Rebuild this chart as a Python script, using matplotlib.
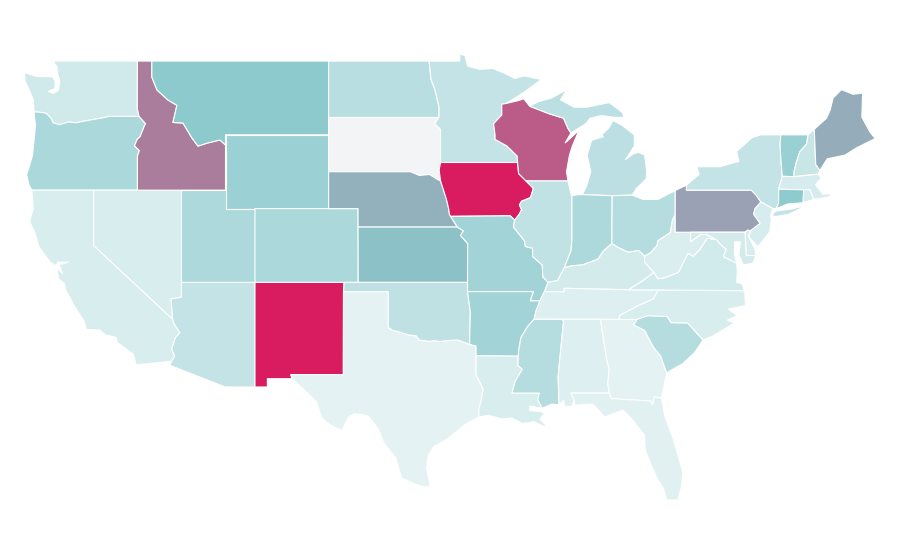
"""
plot.py
US states choropleth on a plain lon/lat grid, light teal through to crimson.
"""

import matplotlib
matplotlib.use('Agg')
import matplotlib.pyplot as plt
from matplotlib.colors import LinearSegmentedColormap, Normalize
from matplotlib.patches import Polygon

# ── Data ──────────────────────────────────────────────────────────────────────

STATES = ["WA", "OR", "CA", "NV", "ID", "MT", "WY", "UT", "CO", "AZ", "NM", "TX",
          "ND", "SD", "NE", "KS", "OK", "MN", "IA", "MO", "AR", "LA", "WI", "IL",
          "MI", "IN", "OH", "KY", "TN", "MS", "AL", "GA", "FL", "SC", "NC", "VA",
          "WV", "PA", "NY", "VT", "NH", "ME", "MA", "RI", "CT", "NJ", "DE", "MD"]

# None means no data
VALUES = [12, 32, 7.5, 7.5, 71.5, 48, 40, 30, 32, 18, 100, 1,
          24, None, 57, 52, 21, 18, 100, 36, 36, 7.5, 81, 20,
          23, 30, 26, 10, 5, 26, 5, 1, 3, 26, 7.5, 11,
          6, 61, 18, 41, 16, 58, 8, 8, 47, 8, 8, 10]

# ── Geography (lon, lat) ──────────────────────────────────────────────────────

OUTLINES = {
    "WA": [[(-117.03, 49), (-122.76, 49), (-122.5, 48.7), (-122.45, 48.3), (-122.3, 47.9), (-122.4, 47.4),
            (-122.75, 47.25), (-123.1, 47.35), (-122.65, 47.5), (-122.6, 47.9), (-122.8, 48.15), (-123.2, 48.15),
            (-123.9, 48.17), (-124.7, 48.38),
            (-124.65, 47.9), (-124.3, 47.3), (-124.1, 46.9), (-124.05, 46.25), (-123.4, 46.2), (-123.2, 46.15),
            (-122.9, 45.9), (-122.75, 45.65), (-122.3, 45.55), (-121.7, 45.7), (-121.2, 45.65), (-120.6, 45.75),
            (-119.9, 45.85), (-119.3, 45.93), (-119, 46), (-116.92, 46), (-117.04, 46.42)]],
    "OR": [[(-124.05, 46.25), (-123.95, 45.5), (-124.05, 44.7), (-124.15, 43.9), (-124.4, 43.2), (-124.55, 42.84),
            (-124.4, 42.3), (-124.2, 42), (-117.03, 42), (-117.03, 43.83), (-116.9, 44.15), (-117.23, 44.4),
            (-117.05, 44.75), (-116.85, 44.9), (-116.55, 45.5), (-116.47, 45.6), (-116.92, 46), (-119, 46),
            (-119.3, 45.93), (-119.9, 45.85), (-120.6, 45.75), (-121.2, 45.65), (-121.7, 45.7), (-122.3, 45.55),
            (-122.75, 45.65), (-122.9, 45.9), (-123.2, 46.15), (-123.4, 46.2)]],
    "CA": [[(-124.2, 42), (-120, 42), (-120, 39), (-114.63, 35), (-114.57, 34.8), (-114.15, 34.27), (-114.45, 34),
            (-114.7, 33.4), (-114.5, 33), (-114.72, 32.72), (-117.12, 32.53), (-117.3, 33.1), (-118.4, 33.75),
            (-118.5, 34.03), (-119.2, 34.15), (-119.6, 34.42), (-120.5, 34.45), (-120.65, 34.9), (-121.3, 35.7),
            (-121.9, 36.6), (-122, 36.95), (-122.4, 37.2), (-122.5, 37.8), (-122.1, 37.45), (-122.35, 37.95),
            (-121.7, 38.1), (-122.45, 38.1), (-122.55, 37.9), (-122.95, 38.1), (-123.7, 38.9), (-124, 39.7),
            (-124.35, 40.3), (-124.1, 41)]],
    "NV": [[(-120, 42), (-114.04, 42), (-114.04, 36.2), (-114.75, 36.1), (-114.65, 35.1), (-114.63, 35), (-120, 39)]],
    "ID": [[(-117.03, 49), (-116.05, 49), (-116.05, 48.13), (-115.7, 47.43), (-114.96, 46.89), (-114.35, 46.6),
            (-114.62, 45.67), (-113.94, 45.64), (-113.33, 44.83), (-112.92, 44.39), (-112.3, 44.55), (-111.43, 44.72),
            (-111.05, 44.45), (-111.05, 42), (-117.03, 42), (-117.03, 43.83), (-116.9, 44.15), (-117.23, 44.4),
            (-117.05, 44.75), (-116.85, 44.9), (-116.55, 45.5), (-116.47, 45.6), (-116.92, 46), (-117.04, 46.42)]],
    "MT": [[(-116.05, 49), (-104.05, 49), (-104.05, 45), (-111.05, 45), (-111.05, 44.45), (-111.43, 44.72),
            (-112.3, 44.55), (-112.92, 44.39), (-113.33, 44.83), (-113.94, 45.64), (-114.62, 45.67), (-114.35, 46.6),
            (-114.96, 46.89), (-115.7, 47.43), (-116.05, 48.13)]],
    "WY": [[(-111.05, 45), (-104.05, 45), (-104.05, 41), (-111.05, 41)]],
    "UT": [[(-114.04, 42), (-111.05, 42), (-111.05, 41), (-109.05, 41), (-109.05, 37), (-114.04, 37)]],
    "CO": [[(-109.05, 41), (-102.05, 41), (-102.04, 37), (-109.05, 37)]],
    "AZ": [[(-114.04, 37), (-109.05, 37), (-109.05, 31.33), (-111.07, 31.33), (-114.81, 32.5), (-114.72, 32.72),
            (-114.5, 33), (-114.7, 33.4), (-114.45, 34), (-114.15, 34.27), (-114.57, 34.8), (-114.63, 35),
            (-114.65, 35.1), (-114.75, 36.1), (-114.04, 36.2)]],
    "NM": [[(-109.05, 37), (-103, 37), (-103.04, 36.5), (-103.05, 32), (-106.62, 32), (-106.53, 31.78),
            (-108.21, 31.78), (-108.21, 31.33), (-109.05, 31.33)]],
    "TX": [[(-103.04, 36.5), (-100, 36.5), (-100, 34.56), (-99.7, 34.4), (-99.2, 34.3), (-98.6, 34.15), (-98.1, 34.1),
            (-97.9, 33.88), (-97.2, 33.8), (-96.9, 33.85), (-96.5, 33.8), (-96, 33.85), (-95.3, 33.88), (-94.48, 33.64),
            (-94.04, 33.55), (-94.04, 33.02), (-94.04, 32), (-93.55, 31.2), (-93.7, 30.6), (-93.85, 30.1),
            (-93.85, 29.7), (-94.7, 29.35), (-95.1, 29.1), (-96, 28.5), (-96.9, 28.1), (-97.3, 27.6), (-97.4, 26.9),
            (-97.15, 25.95), (-97.55, 25.9), (-98.3, 26.1), (-99.1, 26.4), (-99.5, 27.5), (-100.3, 28.3),
            (-100.7, 29.1), (-101.4, 29.77), (-102.3, 29.88), (-102.7, 29.7), (-103.15, 28.97), (-104, 29.3),
            (-104.5, 29.65), (-104.9, 30.55), (-106, 31.4), (-106.53, 31.78), (-106.62, 32), (-103.05, 32)]],
    "ND": [[(-104.05, 49), (-97.23, 49), (-97.1, 48), (-96.85, 47.5), (-96.55, 46.5), (-96.56, 45.94), (-104.05, 45.94)]],
    "SD": [[(-104.05, 45.94), (-96.56, 45.94), (-96.85, 45.6), (-96.45, 45.3), (-96.45, 43.5), (-96.55, 43.1),
            (-96.45, 42.5), (-96.7, 42.6), (-97.2, 42.85), (-97.9, 42.8), (-98.5, 43), (-104.05, 43)]],
    "NE": [[(-104.05, 43), (-98.5, 43), (-97.9, 42.8), (-97.2, 42.85), (-96.7, 42.6), (-96.45, 42.5), (-96.25, 42),
            (-96.05, 41.5), (-95.9, 41), (-95.85, 40.7), (-95.77, 40.58), (-95.31, 40), (-102.05, 40), (-102.05, 41),
            (-104.05, 41)]],
    "KS": [[(-102.05, 40), (-95.31, 40), (-94.9, 39.8), (-95.1, 39.55), (-94.61, 39.1), (-94.62, 37), (-102.04, 37)]],
    "OK": [[(-103, 37), (-94.62, 37), (-94.62, 36.5), (-94.43, 35.4), (-94.48, 33.64), (-95.3, 33.88), (-96, 33.85),
            (-96.5, 33.8), (-96.9, 33.85), (-97.2, 33.8), (-97.9, 33.88), (-98.1, 34.1), (-98.6, 34.15), (-99.2, 34.3),
            (-99.7, 34.4), (-100, 34.56), (-100, 36.5), (-103.04, 36.5)]],
    "MN": [[(-97.23, 49), (-95.15, 49), (-95.15, 49.38), (-94.8, 49.3), (-94.6, 48.72), (-93.8, 48.55), (-92.9, 48.6),
            (-92, 48.3), (-91.4, 48.05), (-90.8, 48.2), (-89.6, 48), (-90.8, 47.3), (-92, 46.7), (-92.3, 46.66),
            (-92.29, 46.08), (-92.85, 45.6), (-92.75, 45), (-92.75, 44.75), (-91.95, 44.4), (-91.25, 43.85),
            (-91.22, 43.5), (-96.45, 43.5), (-96.45, 45.3), (-96.85, 45.6), (-96.56, 45.94), (-96.55, 46.5),
            (-96.85, 47.5), (-97.1, 48)]],
    "IA": [[(-96.45, 43.5), (-91.22, 43.5), (-91.15, 42.9), (-90.65, 42.5), (-90.15, 42.1), (-90.34, 41.6),
            (-90.95, 41.4), (-91.1, 41.2), (-90.95, 40.95), (-91.1, 40.7), (-91.42, 40.38), (-91.73, 40.61),
            (-95.77, 40.58), (-95.85, 40.7), (-95.9, 41), (-96.05, 41.5), (-96.25, 42), (-96.45, 42.5), (-96.55, 43.1)]],
    "MO": [[(-95.77, 40.58), (-91.73, 40.61), (-91.42, 40.38), (-91.5, 40), (-91.4, 39.9), (-90.75, 39.25), (-90.7, 38.95),
            (-90.2, 38.85), (-90.2, 38.4), (-89.55, 37.95), (-89.5, 37.3), (-89.15, 37), (-89.4, 36.5), (-89.7, 36),
            (-90.37, 36), (-90.15, 36.5), (-94.62, 36.5), (-94.62, 37), (-94.61, 39.1), (-95.1, 39.55), (-94.9, 39.8),
            (-95.31, 40)]],
    "AR": [[(-94.62, 36.5), (-90.15, 36.5), (-90.37, 36), (-89.7, 36), (-89.95, 35.5), (-90.1, 35), (-90.55, 34.6),
            (-91, 34), (-91.15, 33.3), (-91.17, 33), (-94.04, 33.02), (-94.04, 33.55), (-94.48, 33.64), (-94.43, 35.4)]],
    "LA": [[(-94.04, 33.02), (-91.17, 33), (-91.2, 32.5), (-90.9, 32.3), (-91.4, 31.6), (-91.6, 31), (-89.75, 31),
            (-89.85, 30.65), (-89.55, 30.18), (-90.4, 30.3), (-90.4, 30.05), (-89.6, 30), (-89.4, 29.9), (-89.7, 29.6),
            (-89.15, 29.1), (-89.6, 29.25), (-90.1, 29.45), (-90.9, 29.35), (-91.6, 29.65),
            (-92.3, 29.6), (-93.2, 29.8), (-93.85, 29.7), (-93.85, 30.1), (-93.7, 30.6), (-93.55, 31.2), (-94.04, 32)]],
    "WI": [[(-92.3, 46.66), (-92, 46.7), (-91.2, 46.85), (-90.8, 46.95), (-90.4, 46.55), (-89.1, 46.15), (-88.1, 45.9),
            (-87.8, 45.35), (-87.6, 45.1), (-88, 44.55), (-87.05, 45.25), (-87.5, 44.4), (-87.7, 43.9), (-87.9, 43),
            (-87.8, 42.5), (-90.65, 42.5), (-91.15, 42.9), (-91.22, 43.5), (-91.25, 43.85), (-91.95, 44.4),
            (-92.75, 44.75), (-92.75, 45), (-92.85, 45.6), (-92.29, 46.08)]],
    "IL": [[(-90.65, 42.5), (-87.8, 42.5), (-87.6, 41.8), (-87.53, 41.7), (-87.53, 39.35), (-87.6, 38.7), (-87.95, 38),
            (-88.05, 37.8), (-88.5, 37.1), (-89.15, 37), (-89.5, 37.3), (-89.55, 37.95), (-90.2, 38.4), (-90.2, 38.85),
            (-90.7, 38.95), (-90.75, 39.25), (-91.4, 39.9), (-91.5, 40), (-91.42, 40.38), (-91.1, 40.7), (-90.95, 40.95),
            (-91.1, 41.2), (-90.95, 41.4), (-90.34, 41.6), (-90.15, 42.1)]],
    "MI": [[(-86.82, 41.76), (-84.8, 41.7), (-83.45, 41.73), (-83.15, 42.1), (-82.5, 42.6), (-82.45, 43), (-82.6, 43.9),
            (-83, 44.05), (-83.4, 43.95), (-83.9, 43.65), (-83.3, 44.4), (-83.3, 45), (-84.1, 45.5), (-84.75, 45.78),
            (-85, 45.4), (-85.5, 45), (-85.4, 44.9), (-86.2, 44.7), (-86.5, 43.9), (-86.25, 43), (-86.55, 42.2)],
           [(-90.4, 46.55), (-89.8, 46.8), (-88.9, 47), (-87.9, 47.45), (-88.3, 46.9), (-87.4, 46.5), (-86.5, 46.5),
            (-85, 46.75), (-84.5, 46.45), (-84.1, 46.2), (-84, 45.95), (-84.7, 45.95), (-85.5, 46.05), (-86.3, 45.9),
            (-86.6, 45.6), (-87.6, 45.1), (-87.8, 45.35), (-88.1, 45.9), (-89.1, 46.15)]],
    "IN": [[(-87.53, 41.7), (-87.2, 41.75), (-86.82, 41.76), (-84.8, 41.7), (-84.82, 39.1), (-85.4, 38.7), (-85.75, 38.27),
            (-86.3, 38.1), (-86.8, 37.95), (-87.5, 37.9), (-88.05, 37.8), (-87.95, 38), (-87.6, 38.7), (-87.53, 39.35)]],
    "OH": [[(-84.8, 41.7), (-83.45, 41.73), (-82.7, 41.5), (-81.7, 41.5), (-80.52, 41.98), (-80.52, 40.64), (-80.7, 40.4),
            (-80.85, 39.7), (-81.7, 39.25), (-81.75, 39), (-82.2, 38.6), (-82.6, 38.42), (-83, 38.73), (-83.7, 38.63),
            (-84.3, 38.85), (-84.82, 39.1)]],
    "KY": [[(-89.4, 36.5), (-89.15, 37), (-88.5, 37.1), (-88.05, 37.8), (-87.5, 37.9), (-86.8, 37.95), (-86.3, 38.1),
            (-85.75, 38.27), (-85.4, 38.7), (-84.82, 39.1), (-84.3, 38.85), (-83.7, 38.63), (-83, 38.73), (-82.6, 38.42),
            (-82.6, 38.1), (-81.97, 37.54), (-82.7, 37.1), (-83.68, 36.6), (-88.07, 36.68), (-88.05, 36.5)]],
    "TN": [[(-90.1, 35), (-89.95, 35.5), (-89.7, 36), (-89.4, 36.5), (-88.05, 36.5), (-88.07, 36.68), (-83.68, 36.6),
            (-81.68, 36.59), (-82, 36.1), (-83, 35.75), (-84.3, 35.2), (-84.32, 34.99), (-85.6, 35), (-88.2, 35)]],
    "MS": [[(-90.1, 35), (-88.2, 35), (-88.1, 34.9), (-88.47, 31.9), (-88.4, 30.37), (-88.9, 30.4), (-89.55, 30.18),
            (-89.85, 30.65), (-89.75, 31), (-91.6, 31), (-91.4, 31.6), (-90.9, 32.3), (-91.2, 32.5), (-91.17, 33),
            (-91.15, 33.3), (-91, 34), (-90.55, 34.6)]],
    "AL": [[(-88.2, 35), (-85.6, 35), (-85.18, 32.87), (-85, 32.3), (-85.1, 31.55), (-85, 31), (-87.6, 31), (-87.4, 30.65),
            (-87.5, 30.3), (-88, 30.25), (-88.1, 30.6), (-88.4, 30.37), (-88.47, 31.9), (-88.1, 34.9)]],
    "GA": [[(-85.6, 35), (-84.32, 34.99), (-83.1, 35), (-83.35, 34.7), (-82.6, 34.4), (-82, 33.5), (-81.5, 33),
            (-81.15, 32.2), (-81.1, 32.1), (-81.45, 30.72), (-81.95, 30.8), (-82.05, 30.36), (-82.2, 30.57),
            (-84.86, 30.7), (-85, 31), (-85.1, 31.55), (-85, 32.3), (-85.18, 32.87)]],
    "FL": [[(-87.6, 31), (-85, 31), (-84.86, 30.7), (-82.2, 30.57), (-82.05, 30.36), (-81.95, 30.8), (-81.45, 30.72),
            (-81.25, 29.8), (-80.65, 28.5), (-80, 26.7), (-80.1, 25.9), (-80.35, 25.2), (-81.1, 25.2), (-81.3, 25.8),
            (-81.8, 26.45), (-82.2, 27.2), (-82.55, 27.9), (-82.6, 28.7), (-83.4, 29.54), (-84.07, 30.08), (-85.3, 29.7),
            (-86.1, 30.4), (-87.33, 30.35), (-87.4, 30.65)]],
    "SC": [[(-83.1, 35), (-82.4, 35.2), (-81.05, 35.15), (-80.8, 34.82), (-79.67, 34.8), (-78.63, 33.88), (-79.2, 33.2),
            (-80, 32.6), (-81.1, 32.1), (-81.15, 32.2), (-81.5, 33), (-82, 33.5), (-82.6, 34.4), (-83.35, 34.7)]],
    "NC": [[(-84.32, 34.99), (-84.3, 35.2), (-83, 35.75), (-82, 36.1), (-81.68, 36.59), (-75.8, 36.55), (-75.75, 35.75),
            (-76.9, 35.55), (-76.3, 35.2), (-77, 34.95), (-76.5, 34.8), (-77.96, 34.1), (-78.63, 33.88), (-79.67, 34.8),
            (-80.8, 34.82), (-81.05, 35.15), (-82.4, 35.2), (-83.1, 35)]],
    "VA": [[(-83.68, 36.6), (-82.7, 37.1), (-81.97, 37.54), (-81.7, 37.2), (-81.25, 37.25), (-80.3, 37.55), (-79.65, 38.58),
            (-79.3, 38.42), (-78.87, 38.76), (-78.35, 39.4), (-77.72, 39.32), (-77.5, 39.1), (-77.05, 38.8), (-77.25, 38.4),
            (-77, 38.3), (-76.35, 38.05), (-76.3, 37.6), (-76.35, 37), (-76, 36.93), (-75.8, 36.55), (-81.68, 36.59)]],
    "WV": [[(-80.52, 39.72), (-79.48, 39.72), (-79.48, 39.2), (-78.8, 39.6), (-78.4, 39.6), (-77.72, 39.32), (-78.35, 39.4),
            (-78.87, 38.76), (-79.3, 38.42), (-79.65, 38.58), (-80.3, 37.55), (-81.25, 37.25), (-81.7, 37.2),
            (-81.97, 37.54), (-82.6, 38.1), (-82.6, 38.42), (-82.2, 38.6), (-81.75, 39), (-81.7, 39.25), (-80.85, 39.7),
            (-80.7, 40.4), (-80.52, 40.64)]],
    "PA": [[(-80.52, 41.98), (-79.76, 42.27), (-79.76, 42), (-75.35, 42), (-75.05, 41.75), (-74.7, 41.36), (-75.1, 41),
            (-75.2, 40.7), (-74.75, 40.2), (-75.4, 39.8), (-75.6, 39.83), (-75.78, 39.72), (-80.52, 39.72)]],
    "NY": [[(-79.76, 42.27), (-78.9, 42.85), (-79.05, 43.27), (-77.5, 43.27), (-76.5, 43.5), (-76.2, 43.55), (-76.35, 44.1),
            (-75.3, 44.85), (-74.7, 45), (-73.35, 45), (-73.4, 44.5), (-73.35, 43.7), (-73.25, 42.75), (-73.5, 42.05),
            (-73.5, 41.3), (-73.65, 41), (-73.9, 41), (-74.7, 41.36), (-75.05, 41.75), (-75.35, 42), (-79.76, 42)],
           [(-74, 40.6), (-73.7, 40.87), (-72.6, 40.98), (-72, 41.1), (-71.9, 41.05), (-72.8, 40.7), (-73.6, 40.58)]],
    "VT": [[(-73.35, 45), (-71.5, 45), (-71.6, 44.5), (-72.05, 44.1), (-72.3, 43.5), (-72.45, 43), (-72.46, 42.73),
            (-73.25, 42.75), (-73.35, 43.7), (-73.4, 44.5)]],
    "NH": [[(-71.5, 45), (-71.08, 45.3), (-70.98, 43.4), (-70.7, 43.07), (-70.82, 42.87), (-72.46, 42.73), (-72.45, 43),
            (-72.3, 43.5), (-72.05, 44.1), (-71.6, 44.5)]],
    "ME": [[(-71.08, 45.3), (-70.25, 45.9), (-70, 46.35), (-69.8, 47), (-69.23, 47.45), (-68.45, 47.2), (-67.8, 47.26),
            (-67.85, 45.96), (-67.3, 45.15), (-66.95, 44.8), (-68.2, 44.3), (-69, 43.9), (-70.2, 43.7),
            (-70.7, 43.07), (-70.98, 43.4)]],
    "MA": [[(-73.5, 42.05), (-73.25, 42.75), (-72.46, 42.73), (-70.82, 42.87), (-70.6, 42.65), (-71, 42.3), (-70.65, 41.95),
            (-70.5, 41.78), (-70, 41.8), (-70.05, 42.05), (-69.95, 41.67), (-70.65, 41.55), (-71.12, 41.5), (-71.38, 42.02),
            (-71.8, 42.02)]],
    "RI": [[(-71.8, 42.02), (-71.38, 42.02), (-71.12, 41.5), (-71.85, 41.32)]],
    "CT": [[(-73.5, 42.05), (-71.8, 42.02), (-71.85, 41.32), (-72.9, 41.25), (-73.65, 41), (-73.5, 41.3)]],
    "NJ": [[(-74.7, 41.36), (-73.9, 41), (-74.05, 40.65), (-74, 40.4), (-74.1, 39.75), (-74.9, 38.93), (-75.55, 39.5),
            (-75.4, 39.8), (-74.75, 40.2), (-75.2, 40.7), (-75.1, 41)]],
    "DE": [[(-75.78, 39.72), (-75.6, 39.83), (-75.4, 39.8), (-75.55, 39.5), (-75.1, 38.8), (-75.05, 38.45), (-75.7, 38.46)]],
    "MD": [[(-79.48, 39.72), (-75.78, 39.72), (-75.7, 38.46), (-75.05, 38.45), (-75.25, 38.03), (-75.9, 37.95), (-76.2, 38.5),
            (-76.1, 39.2), (-76.5, 39.2), (-76.5, 38.5), (-76.35, 38.05), (-77, 38.3), (-77.25, 38.4), (-77.05, 38.8),
            (-77.5, 39.1), (-77.72, 39.32), (-78.4, 39.6), (-78.8, 39.6), (-79.48, 39.2)]],
}

# ── Colours ───────────────────────────────────────────────────────────────────

NO_DATA_COLOUR = "#f3f4f6"
BORDER_COLOUR = "#ffffff"

cmap = LinearSegmentedColormap.from_list("teal_crimson", ["#e6f3f4", "#88c8cc", "#d91b5f"])
norm = Normalize(vmin=0, vmax=100)

# ── Drawing ───────────────────────────────────────────────────────────────────

fig = plt.figure(figsize=(9, 5.6), dpi=100)
ax = fig.add_axes([0, 0, 1, 1])
ax.set_xlim(-126.36, -65.26)
ax.set_ylim(21.95, 52.31)
ax.axis('off')

for state, value in zip(STATES, VALUES):
    colour = NO_DATA_COLOUR if value is None else cmap(norm(value))
    for ring in OUTLINES[state]:
        ax.add_patch(Polygon(ring, closed=True, facecolor=colour,
                             edgecolor=BORDER_COLOUR, linewidth=0.8))

fig.savefig("out.png", dpi=100, facecolor='white')
plt.close(fig)
